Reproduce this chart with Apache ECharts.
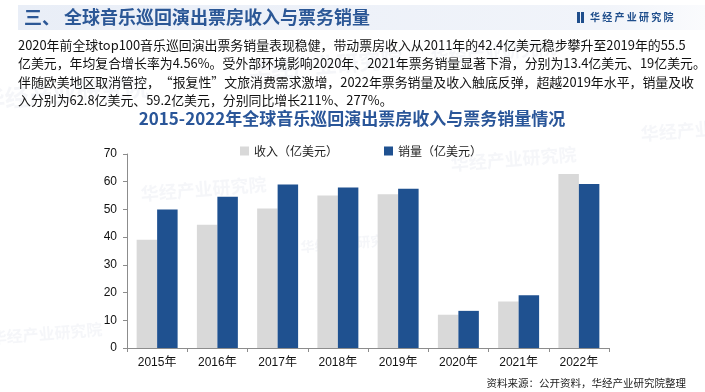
<!DOCTYPE html>
<html>
<head>
<meta charset="utf-8">
<script src="https://cdn.jsdelivr.net/npm/echarts@6/dist/echarts.min.js"></script>
<style>
html,body{margin:0;padding:0;background:#fff;}
#c{width:705px;height:392px;}
</style>
</head>
<body>
<div id="c"></div>
<script>
const categories = ['2015年','2016年','2017年','2018年','2019年','2020年','2021年','2022年'];
const revenue = [39.1, 44.5, 50.3, 55.0, 55.5, 12.0, 16.8, 62.8];
const sales = [50.0, 54.6, 59.0, 57.9, 57.5, 13.4, 19.0, 59.2];
const seriesNames = ['收入（亿美元）', '销量（亿美元）'];
const yTicks = [0, 10, 20, 30, 40, 50, 60, 70];

const headerTitle = '三、 全球音乐巡回演出票房收入与票务销量';
const brand = '华经产业研究院';
const bodyLines = [
  '2020年前全球top100音乐巡回演出票务销量表现稳健，带动票房收入从2011年的42.4亿美元稳步攀升至2019年的55.5',
  '亿美元，年均复合增长率为4.56%。受外部环境影响2020年、2021年票务销量显著下滑，分别为13.4亿美元、19亿美元。',
  '伴随欧美地区取消管控，“报复性”文旅消费需求激增，2022年票务销量及收入触底反弹，超越2019年水平，销量及收',
  '入分别为62.8亿美元、59.2亿美元，分别同比增长211%、277%。'
];
const chartTitle = '2015-2022年全球音乐巡回演出票房收入与票务销量情况';
const sourceText = '资料来源：公开资料，华经产业研究院整理';

const CJK = '"Noto Sans CJK SC", "Noto Sans", sans-serif';
const LAT = '"Liberation Sans", "Noto Sans CJK SC", sans-serif';

const chart = echarts.init(document.getElementById('c'), null, {renderer: 'canvas'});

const wm = (x, y, size) => ({
  type: 'text', x: x, y: y, rotation: 0.08, silent: true, z: -10,
  style: {text: brand, fill: 'rgba(190,200,215,0.16)', font: 'bold ' + size + 'px ' + CJK}
});

const graphics = [
  wm(-20, 88, 24), wm(248, 60, 22), wm(140, 185, 18), wm(300, 240, 14), wm(450, 155, 18),
  wm(640, 125, 18), wm(-10, 330, 16), wm(430, 48, 18),
  {
    type: 'rect', shape: {x: 18, y: 5, width: 687, height: 25}, z: -5,
    style: {fill: new echarts.graphic.LinearGradient(0, 0, 1, 0, [
      {offset: 0, color: '#e9eef7'}, {offset: 0.85, color: '#f1f4fa'}, {offset: 1, color: '#fafbfd'}
    ])}
  },
  {
    type: 'text', x: 24, y: 17.5,
    style: {text: headerTitle, fill: '#2b5796', font: 'bold 18px ' + CJK, textVerticalAlign: 'middle'}
  },
  {type: 'rect', shape: {x: 577, y: 12, width: 3, height: 11}, style: {fill: '#1f4e8c'}},
  {type: 'rect', shape: {x: 581, y: 12, width: 3, height: 11}, style: {fill: '#1f4e8c'}},
  {
    type: 'text', x: 590, y: 17.5,
    style: {text: '华 经 产 业 研 究 院', fill: '#1f4e8c', font: 'bold 10px ' + CJK, textVerticalAlign: 'middle'}
  },
  {
    type: 'text', x: 352, y: 119, 
    style: {text: chartTitle, fill: '#2a5699', font: 'bold 17px ' + CJK, textAlign: 'center', textVerticalAlign: 'middle'}
  },
  {
    type: 'text', x: 686, y: 383,
    style: {text: sourceText, fill: '#222', font: '10.5px ' + CJK, textAlign: 'right', textVerticalAlign: 'middle'}
  }
];
bodyLines.forEach((t, i) => {
  graphics.push({
    type: 'text', x: 18, y: 45 + i * 18.3,
    style: {text: t, fill: '#111', font: '12.9px ' + CJK, textVerticalAlign: 'middle'}
  });
});

chart.setOption({
  animation: false,
  backgroundColor: '#fff',
  graphic: graphics,
  legend: {
    data: seriesNames,
    left: 235, top: 140,
    itemWidth: 9, itemHeight: 9, itemGap: 46,
    icon: 'rect',
    textStyle: {fontSize: 12, color: '#222', fontFamily: CJK}
  },
  grid: {left: 127, right: 96, top: 154, bottom: 44, containLabel: false},
  xAxis: {
    type: 'category', data: categories,
    axisLine: {lineStyle: {color: '#8c8c8c', width: 1}},
    axisTick: {show: true, alignWithLabel: false, length: 4, lineStyle: {color: '#8c8c8c'}},
    axisLabel: {fontSize: 12, color: '#111', fontFamily: LAT, margin: 9}
  },
  yAxis: {
    type: 'value', min: yTicks[0], max: yTicks[yTicks.length - 1], interval: 10,
    axisLine: {show: true, lineStyle: {color: '#8c8c8c', width: 1}},
    axisTick: {show: true, length: 4, lineStyle: {color: '#8c8c8c'}},
    splitLine: {show: false},
    axisLabel: {fontSize: 12, color: '#111', fontFamily: LAT, margin: 10}
  },
  series: [
    {name: seriesNames[0], type: 'bar', data: revenue, barGap: '0%', barCategoryGap: '32%',
     itemStyle: {color: '#d9d9d9'}},
    {name: seriesNames[1], type: 'bar', data: sales, barGap: '0%', barCategoryGap: '32%',
     itemStyle: {color: '#1f5190'}}
  ]
});
</script>
</body>
</html>
